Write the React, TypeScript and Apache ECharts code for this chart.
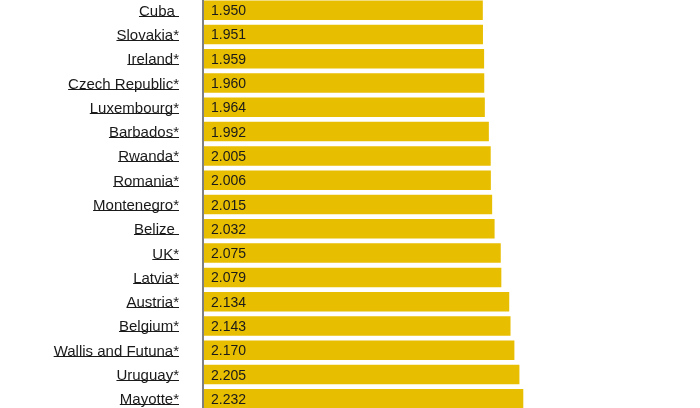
import { useEffect, useRef } from 'react';
import * as echarts from 'echarts';

const countries = [
  'Cuba ', 'Slovakia*', 'Ireland*', 'Czech Republic*', 'Luxembourg*', 'Barbados*',
  'Rwanda*', 'Romania*', 'Montenegro*', 'Belize ', 'UK*', 'Latvia*', 'Austria*',
  'Belgium*', 'Wallis and Futuna*', 'Uruguay*', 'Mayotte*',
];
const rates = [
  1.95, 1.951, 1.959, 1.96, 1.964, 1.992, 2.005, 2.006, 2.015, 2.032, 2.075, 2.079,
  2.134, 2.143, 2.17, 2.205, 2.232,
];

const FONT = 'Arial, "Liberation Sans", sans-serif';
const LABEL_SIZE = 15;
const LABEL_GAP = 24;

/** 用 canvas 量出标签宽度，供下划线使用 */
function textWidth(s: string): number {
  const ctx = document.createElement('canvas').getContext('2d');
  if (!ctx) return s.length * 7;
  ctx.font = `${LABEL_SIZE}px Arial, "Liberation Sans", sans-serif`;
  return ctx.measureText(s).width;
}

export default function App() {
  const chartRef = useRef<HTMLDivElement>(null);

  useEffect(() => {
    if (!chartRef.current) return;
    const chart = echarts.init(chartRef.current, undefined, { renderer: 'svg' });
    const widths = countries.map(textWidth);

    const option = {
      animation: false,
      grid: { left: 203, right: 66.5, top: 0, bottom: 0, containLabel: false },
      xAxis: { type: 'value', min: 0, max: 3, show: false },
      yAxis: {
        type: 'category',
        inverse: true,
        data: countries,
        z: 5,
        axisTick: { show: false },
        axisLine: { lineStyle: { color: '#808080', width: 2 } },
        axisLabel: {
          margin: LABEL_GAP,
          fontSize: LABEL_SIZE,
          fontFamily: FONT,
          color: '#1a1a1a',
        },
      },
      series: [
        {
          type: 'bar',
          data: rates,
          barWidth: 19.5,
          itemStyle: { color: '#E8BE00' },
          label: {
            show: true,
            position: 'insideLeft',
            distance: 8,
            fontSize: 14,
            fontFamily: FONT,
            color: '#1a1a1a',
            formatter: (p: { value: number }) => p.value.toFixed(3),
          },
        },
        {
          // 类别标签的下划线
          type: 'custom',
          silent: true,
          clip: false,
          data: countries.map((_, i) => [0, i]),
          renderItem: (params: { dataIndex: number }, api: any) => {
            const pt = api.coord([0, api.value(1)]);
            const right = pt[0] - LABEL_GAP;
            const y = Math.round(pt[1] + 5.5) + 0.5;
            return {
              type: 'line',
              shape: { x1: right - widths[params.dataIndex], y1: y, x2: right, y2: y },
              style: { stroke: '#1a1a1a', lineWidth: 1 },
            };
          },
        },
      ],
    };

    chart.setOption(option as echarts.EChartsOption);
    return () => chart.dispose();
  }, []);

  return (
    <div
      ref={chartRef}
      style={{ position: 'fixed', left: 0, top: -2.4, width: 700, height: 412.6 }}
    />
  );
}
